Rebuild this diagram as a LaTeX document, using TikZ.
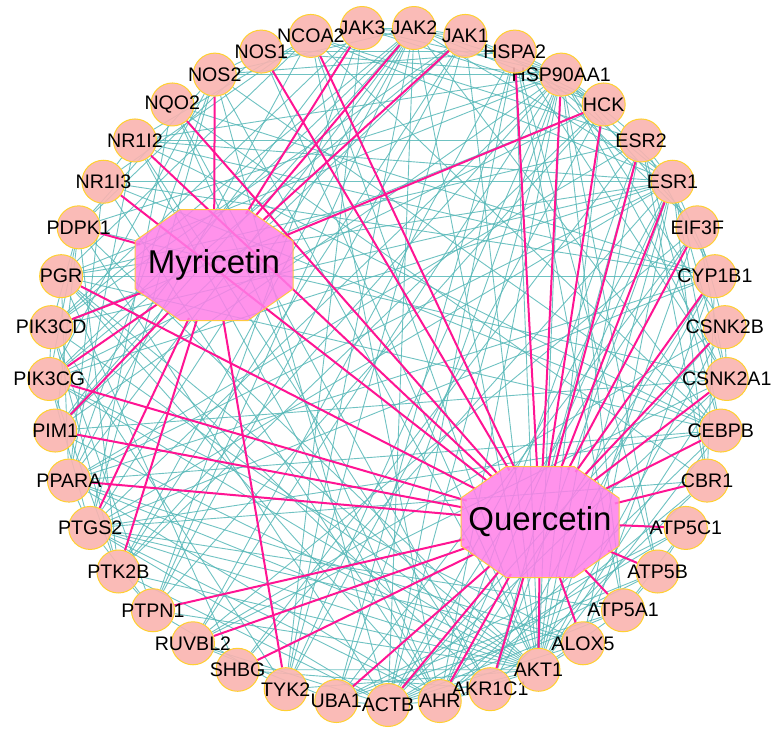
\documentclass[tikz,border=0pt]{standalone}
\usepackage{fontspec}
\setmainfont{Liberation Sans}
\usepackage{tikz}
\usetikzlibrary{shapes.geometric}
\usepackage{xcolor}
\definecolor{genefill}{HTML}{FAB4B0}
\definecolor{geneline}{HTML}{FFD030}
\definecolor{hubfill}{HTML}{FF7FE8}
\definecolor{hubline}{HTML}{FFC840}
\definecolor{hitline}{HTML}{FF1493}
\definecolor{ppiline}{HTML}{56B8B8}
\pgfdeclarelayer{paper}
\pgfdeclarelayer{edges}
\pgfsetlayers{paper,edges,main}

\begin{document}
\begin{tikzpicture}[x=0.5pt,y=-0.5pt,
  gene/.style={circle,minimum size=21.5pt,inner sep=0pt,fill=genefill,fill opacity=0.9,text opacity=1,
    draw=geneline,line width=0.5pt,font=\fontsize{9.8}{11}\selectfont},
  hub/.style={ellipse,minimum width=79pt,minimum height=55.5pt,inner sep=0pt,
    font=\fontsize{16.5}{18}\selectfont},
  octagon/.style={fill=hubfill,fill opacity=0.85,draw=hubline,line width=0.5pt},
  ppi/.style={ppiline,line width=0.45pt,opacity=0.85},
  hit/.style={hitline,line width=1pt}]
  \useasboundingbox (0,0) rectangle (781,739);
  \begin{pgfonlayer}{paper}
    \fill[white] (0,0) rectangle (781,739);
  \end{pgfonlayer}
  \begin{scope}[shift={(388,366)}]
    \foreach \g [count=\i from 0] in {ACTB,AHR,AKR1C1,AKT1,ALOX5,ATP5A1,ATP5B,ATP5C1,CBR1,CEBPB,
      CSNK2A1,CSNK2B,CYP1B1,EIF3F,ESR1,ESR2,HCK,HSP90AA1,HSPA2,JAK1,JAK2,JAK3,NCOA2,NOS1,NOS2,
      NQO2,NR1I2,NR1I3,PDPK1,PGR,PIK3CD,PIK3CG,PIM1,PPARA,PTGS2,PTK2B,PTPN1,RUVBL2,SHBG,TYK2,UBA1}
      \node[gene] (\g) at ({90-\i*360/41}:339) {\makebox[0pt]{\g}};
  \end{scope}
  \foreach \h/\p in {Myricetin/{214,265},Quercetin/{540,522}} {
    \filldraw[octagon,shift={(\p)}] (-34,-55.5) -- (34,-55.5) -- (79,-24) -- (79,24) -- (34,55.5)
      -- (-34,55.5) -- (-79,24) -- (-79,-24) -- cycle;
    \node[hub] (\h) at (\p) {\makebox[0pt]{\h}};
  }
  \begin{pgfonlayer}{edges}
    \foreach \a/\b in {AKT1/ACTB,AKT1/AHR,AKT1/ALOX5,AKT1/ATP5A1,AKT1/CEBPB,AKT1/CSNK2A1,AKT1/CSNK2B,
      AKT1/EIF3F,AKT1/ESR1,AKT1/ESR2,AKT1/HSP90AA1,AKT1/HSPA2,AKT1/JAK1,AKT1/JAK2,AKT1/NOS1,AKT1/NOS2,
      AKT1/PDPK1,AKT1/PGR,AKT1/PIK3CD,AKT1/PIK3CG,AKT1/PIM1,AKT1/PPARA,AKT1/PTGS2,AKT1/PTK2B,AKT1/PTPN1,
      AKT1/SHBG,AKT1/TYK2,AKT1/NCOA2,AKT1/HCK,
      HSP90AA1/ACTB,HSP90AA1/AHR,HSP90AA1/ESR1,HSP90AA1/ESR2,HSP90AA1/HSPA2,HSP90AA1/JAK1,HSP90AA1/JAK2,
      HSP90AA1/JAK3,HSP90AA1/NOS1,HSP90AA1/NOS2,HSP90AA1/NR1I2,HSP90AA1/PGR,HSP90AA1/PIM1,HSP90AA1/PDPK1,
      HSP90AA1/PTK2B,HSP90AA1/CSNK2A1,HSP90AA1/CSNK2B,HSP90AA1/HCK,HSP90AA1/TYK2,HSP90AA1/RUVBL2,
      HSP90AA1/UBA1,HSP90AA1/PTGS2,HSP90AA1/ATP5A1,HSP90AA1/ATP5B,HSP90AA1/EIF3F,
      ESR1/ESR2,ESR1/PGR,ESR1/NCOA2,ESR1/CYP1B1,ESR1/AHR,ESR1/PPARA,ESR1/CEBPB,ESR1/NR1I2,ESR1/NR1I3,
      ESR1/SHBG,ESR1/PTGS2,ESR1/JAK2,ESR1/PIK3CD,ESR1/PIK3CG,ESR1/CSNK2A1,ESR1/ACTB,ESR1/ALOX5,
      ESR1/AKR1C1,ESR1/HSPA2,ESR1/CBR1,
      ESR2/PGR,ESR2/NCOA2,ESR2/CYP1B1,ESR2/AHR,ESR2/SHBG,ESR2/PPARA,ESR2/CEBPB,ESR2/NR1I2,ESR2/AKR1C1,ESR2/CBR1,
      PTGS2/ALOX5,PTGS2/NOS2,PTGS2/PPARA,PTGS2/CEBPB,PTGS2/PTPN1,PTGS2/AHR,PTGS2/CYP1B1,PTGS2/NQO2,
      PTGS2/JAK2,PTGS2/PIK3CG,PTGS2/CBR1,PTGS2/ACTB,PTGS2/ATP5A1,
      JAK2/JAK1,JAK2/JAK3,JAK2/TYK2,JAK2/PTPN1,JAK2/PTK2B,JAK2/HCK,JAK2/PIM1,JAK2/CEBPB,JAK2/PIK3CD,
      JAK2/PIK3CG,JAK2/NOS2,JAK2/ACTB,JAK2/PPARA,
      JAK1/JAK3,JAK1/TYK2,JAK1/PTPN1,JAK1/HCK,JAK1/PIM1,JAK1/PIK3CD,JAK1/PIK3CG,JAK1/PTK2B,
      JAK3/TYK2,JAK3/PTPN1,JAK3/HCK,JAK3/PIK3CD,JAK3/PIM1,
      TYK2/PTPN1,TYK2/HCK,TYK2/PIK3CD,
      ACTB/AHR,ACTB/ATP5A1,ACTB/ATP5B,ACTB/ATP5C1,ACTB/RUVBL2,ACTB/UBA1,ACTB/CSNK2A1,ACTB/CSNK2B,
      ACTB/EIF3F,ACTB/HSPA2,ACTB/PTK2B,ACTB/NOS2,ACTB/PDPK1,ACTB/ALOX5,
      AHR/CYP1B1,AHR/NQO2,AHR/NR1I2,AHR/NR1I3,AHR/NCOA2,AHR/CEBPB,AHR/PPARA,AHR/AKR1C1,AHR/CBR1,AHR/PGR,
      CYP1B1/NR1I2,CYP1B1/NR1I3,CYP1B1/AKR1C1,CYP1B1/CBR1,CYP1B1/NQO2,CYP1B1/ALOX5,CYP1B1/PPARA,CYP1B1/PGR,
      NR1I2/NR1I3,NR1I2/NCOA2,NR1I2/PPARA,NR1I2/CEBPB,NR1I2/AKR1C1,
      NR1I3/NCOA2,NR1I3/PPARA,NR1I3/CEBPB,
      PPARA/NCOA2,PPARA/CEBPB,PPARA/PGR,PPARA/NOS2,PPARA/ALOX5,
      PGR/NCOA2,PGR/CEBPB,PGR/SHBG,PGR/AKR1C1,
      NOS2/NOS1,NOS2/CEBPB,NOS2/PIK3CG,NOS2/PDPK1,NOS2/HSPA2,
      NOS1/HSPA2,NOS1/PDPK1,
      PIK3CD/PIK3CG,PIK3CD/PDPK1,PIK3CD/PTK2B,PIK3CD/HCK,PIK3CD/PTPN1,
      PIK3CG/PDPK1,PIK3CG/PTK2B,PIK3CG/HCK,PIK3CG/ALOX5,
      PDPK1/PIM1,PDPK1/PTK2B,PDPK1/CSNK2A1,
      CSNK2A1/CSNK2B,CSNK2A1/HSPA2,CSNK2A1/RUVBL2,CSNK2A1/EIF3F,CSNK2A1/PIM1,
      CSNK2B/RUVBL2,CSNK2B/EIF3F,
      ATP5A1/ATP5B,ATP5A1/ATP5C1,ATP5A1/HSPA2,ATP5A1/UBA1,
      ATP5B/ATP5C1,ATP5B/HSPA2,ATP5B/UBA1,ATP5C1/UBA1,
      UBA1/RUVBL2,UBA1/HSPA2,UBA1/EIF3F,RUVBL2/EIF3F,RUVBL2/HSPA2,
      AKR1C1/CBR1,AKR1C1/NQO2,AKR1C1/SHBG,CBR1/NQO2,
      HCK/PTK2B,HCK/PTPN1,PTK2B/PTPN1,HSPA2/EIF3F,CEBPB/NCOA2}
      \draw[ppi] (\a) -- (\b);
    \foreach \g in {NOS2,PDPK1,PIK3CD,PIK3CG,PIM1,PTGS2,PTK2B,TYK2,JAK3,JAK2,JAK1,HCK}
      \draw[hit] (Myricetin) -- (\g);
    \foreach \g in {NR1I3,NR1I2,NQO2,NOS1,NCOA2,HSPA2,HSP90AA1,HCK,ESR2,ESR1,EIF3F,CYP1B1,CSNK2B,
      CSNK2A1,CEBPB,CBR1,ATP5C1,ATP5B,ATP5A1,ALOX5,AKT1,AKR1C1,AHR,ACTB,UBA1,SHBG,RUVBL2,PTPN1,
      PPARA,PIM1,PIK3CG,PGR}
      \draw[hit] (Quercetin) -- (\g);
  \end{pgfonlayer}
\end{tikzpicture}
\end{document}
